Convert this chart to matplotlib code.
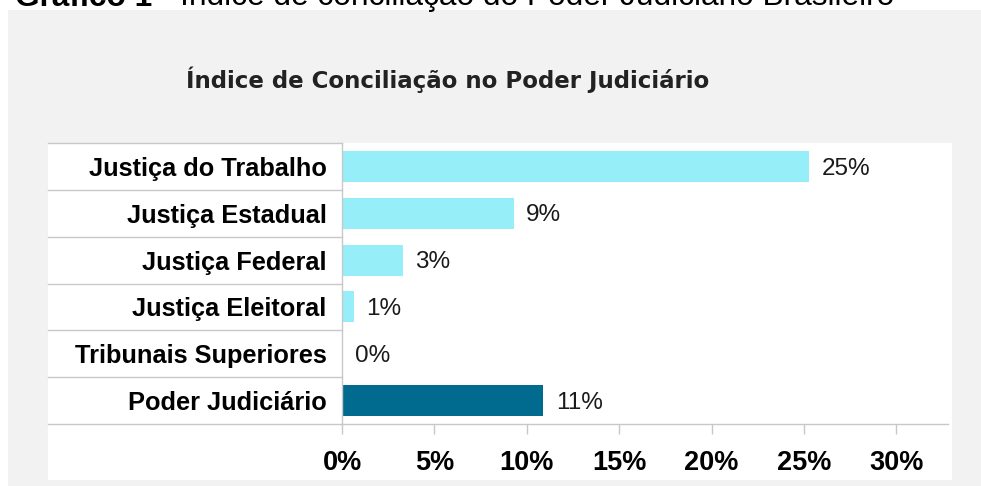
import matplotlib
matplotlib.use("Agg")
import matplotlib.pyplot as plt
from matplotlib.patches import Rectangle
from matplotlib.transforms import blended_transform_factory

# chart data
categories = ["Justiça do Trabalho", "Justiça Estadual", "Justiça Federal",
              "Justiça Eleitoral", "Tribunais Superiores", "Poder Judiciário"]
values = [25.3, 9.3, 3.3, 0.65, 0.0, 10.9]
value_labels = ["25%", "9%", "3%", "1%", "0%", "11%"]
xticks = [0, 5, 10, 15, 20, 25, 30]
xtick_labels = ["0%", "5%", "10%", "15%", "20%", "25%", "30%"]

LIGHT = "#96eef8"
DARK = "#006b8f"
GRID = "#c8c8c8"
FONT = "Liberation Sans"

W, H = 981, 486


def fx(px):
    return px / W


def fy(py):
    return 1 - py / H


fig = plt.figure(figsize=(W / 100, H / 100), dpi=100)
fig.patch.set_facecolor("white")

# gray panel and white plot area behind everything
fig.add_artist(Rectangle((fx(8), 0), 1 - fx(8), fy(10), transform=fig.transFigure,
                         facecolor="#f2f2f2", edgecolor="none", zorder=-10))
fig.add_artist(Rectangle((fx(48), fy(480)), fx(952) - fx(48), fy(143) - fy(480),
                         transform=fig.transFigure, facecolor="white",
                         edgecolor="none", zorder=-9))

ax = fig.add_axes([fx(342), fy(424), fx(948) - fx(342), fy(143) - fy(424)])
ax.patch.set_alpha(0)

y = list(range(len(categories)))
colors = [LIGHT] * (len(categories) - 1) + [DARK]
ax.barh(y, values, height=0.66, color=colors, zorder=2)

ax.set_xlim(0, 32.8)
ax.set_ylim(len(categories) - 0.5, -0.5)
ax.set_xticks(xticks)
ax.set_xticklabels(xtick_labels, fontsize=19.5, fontweight="bold", family=FONT)
ax.set_yticks(y)
ax.set_yticklabels(categories, fontsize=18.3, fontweight="bold", family=FONT)
ax.tick_params(axis="x", length=7, width=1, color=GRID, pad=12)
ax.tick_params(axis="y", length=0, pad=11)

for s in ["top", "right"]:
    ax.spines[s].set_visible(False)
for s in ["left", "bottom"]:
    ax.spines[s].set_color(GRID)
    ax.spines[s].set_linewidth(1)

# row separators in the label column
x0 = (48 - 342) / (948 - 342)
trans = blended_transform_factory(ax.transAxes, ax.transData)
for b in [i - 0.5 for i in range(len(categories))]:
    ax.plot([x0, 0], [b, b], transform=trans, color=GRID, lw=1, clip_on=False)
ax.plot([x0, 0], [0, 0], transform=ax.transAxes, color=GRID, lw=1, clip_on=False)

for i, (v, lbl) in enumerate(zip(values, value_labels)):
    ax.annotate(lbl, (v, i), xytext=(9, -1.5), textcoords="offset points",
                va="center", ha="left", fontsize=17.5, family=FONT,
                color="#1a1a1a")

fig.text(fx(448), fy(80), "Índice de Conciliação no Poder Judiciário",
         ha="center", va="center", fontsize=16.5, fontweight="bold",
         family="DejaVu Sans", color="#222222")

# document caption, cut off at the top edge as in the source
t1 = fig.text(fx(15), fy(5.5), "Gráfico 1", fontsize=22.8, fontweight="bold",
              family=FONT, va="baseline", ha="left")
ax.annotate(" - Índice de conciliação do Poder Judiciário Brasileiro", xy=(1, 0),
            xycoords=t1, va="bottom", ha="left", fontsize=22.8,
            family=FONT, annotation_clip=False)

fig.savefig("out.png", dpi=100)
